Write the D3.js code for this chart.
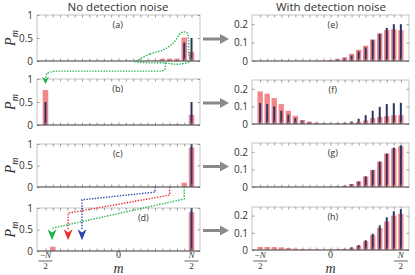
<!DOCTYPE html>
<html>
<head>
<meta charset="utf-8">
<script src="https://cdnjs.cloudflare.com/ajax/libs/d3/7.8.5/d3.min.js"></script>
<style>
body{margin:0;background:#fff}
svg{display:block}
text{font-family:'Open Sans',sans-serif;fill:#333}
.serif{font-family:'Liberation Serif',serif}
</style>
</head>
<body>
<script>
// m = -N/2 ... N/2  (N = 20)
var mVals = d3.range(-10, 11);

// no detection noise (left)
var aRed  = [0,0,0,0,0,0,0,0,0,0,0,0,0,0,0.01,0.015,0.05,0.05,0.05,0.51,0.2];
var aNavy = [0,0,0,0,0,0,0,0,0,0,0,0,0,0,0,0,0.02,0.02,0.02,0.4,0.5];
var bRed  = [0.76,0,0,0,0,0,0,0,0,0,0,0,0,0,0,0,0,0,0.01,0,0.22];
var bNavy = [0.5,0,0,0,0,0,0,0,0,0,0,0,0,0,0,0,0,0,0,0,0.5];
var cRed  = [0,0,0,0,0,0,0,0,0,0,0,0,0,0,0,0,0,0,0,0.1,0.92];
var cNavy = [0,0,0,0,0,0,0,0,0,0,0,0,0,0,0,0,0,0,0,0,1];
var dRed  = [0,0.1,0,0,0,0,0,0,0,0,0,0,0,0,0,0,0,0,0,0,0.9];
var dNavy = [0,0,0,0,0,0,0,0,0,0,0,0,0,0,0,0,0,0,0,0,1];

// with detection noise (right)
var eRed  = [0,0,0,0,0,0,0,0,0.001,0.003,0.005,0.011,0.02,0.039,0.061,0.083,0.117,0.15,0.168,0.172,0.167];
var eNavy = [0,0,0,0,0,0,0,0,0,0.001,0.003,0.008,0.015,0.03,0.052,0.074,0.115,0.148,0.18,0.2,0.2];
var fRed  = [0.185,0.172,0.147,0.113,0.075,0.047,0.023,0.013,0.007,0.004,0.002,0.003,0.005,0.008,0.012,0.02,0.033,0.04,0.045,0.05,0.05];
var fNavy = [0.119,0.113,0.1,0.075,0.053,0.034,0.019,0.011,0.006,0.003,0.002,0.004,0.008,0.015,0.03,0.05,0.075,0.097,0.113,0.118,0.12];
var gRed  = [0,0,0,0,0,0,0,0,0,0,0.001,0.003,0.007,0.017,0.032,0.06,0.097,0.144,0.19,0.219,0.232];
var gNavy = [0,0,0,0,0,0,0,0,0,0,0.001,0.003,0.007,0.016,0.031,0.06,0.097,0.144,0.19,0.224,0.237];
var hRed  = [0.018,0.018,0.017,0.015,0.012,0.008,0.006,0.004,0.003,0.002,0.004,0.004,0.006,0.013,0.025,0.051,0.086,0.128,0.166,0.2,0.21];
var hNavy = [0,0,0,0,0,0,0,0,0,0,0.001,0.003,0.007,0.016,0.029,0.057,0.095,0.143,0.19,0.225,0.238];

var leftTicks = [0, 0.5, 1];
var rightTicks = [0, 0.1, 0.2];
var titles = ['No detection noise', 'With detection noise'];
var letters = ['(a)','(b)','(c)','(d)','(e)','(f)','(g)','(h)'];

// annotation paths, in (m, P) units of the panel they belong to
var lassoA = [[2.4,0],[4.3,0.15],[6.1,0.24],[7.5,0.39],[8.3,0.57],[8.8,0.63],[9.4,0.61],[9.6,0.46],[9.6,0.2],[9.8,0.02],[9.4,-0.04],[7.9,-0.07],[6.1,-0.04],[4.3,-0.04],[2.5,-0.02]];
var tailA  = [[6.4,-0.04],[6.4,-0.17],[6.0,-0.22],[-8.7,-0.22],[-9.8,-0.26],[-10,-0.38]];
var tipA = [-10, -0.5];
var blueD  = [[5,1.49],[5,1.37],[-5,1.19],[-5,0.5]];
var redD   = [[7,1.49],[7,1.3],[-6.9,0.88],[-6.9,0.5]];
var greenD = [[9,1.49],[9,1.21],[-9.1,0.53],[-9.1,0.5]];
var tipsD = [[-9.1,0.25],[-6.9,0.25],[-5,0.25]];

var W = 415, H = 275;
var svg = d3.select('body').append('svg').attr('width', W).attr('height', H);

var colRed = '#f3868a', colNavy = '#2a3463';
var green = '#1fb24a', red = '#ee2a2a', blue = '#2f44a8';

var panels = [
    {x0:37, x1:200, y0:15, y1:61, max:1, red:aRed, navy:aNavy, t:leftTicks},
    {x0:37, x1:200, y0:79, y1:125, max:1, red:bRed, navy:bNavy, t:leftTicks},
    {x0:37, x1:200, y0:144, y1:187, max:1, red:cRed, navy:cNavy, t:leftTicks},
    {x0:37, x1:200, y0:208, y1:251, max:1, red:dRed, navy:dNavy, t:leftTicks},
    {x0:252, x1:409, y0:15, y1:61, max:0.25, red:eRed, navy:eNavy, t:rightTicks},
    {x0:252, x1:409, y0:80, y1:124, max:0.25, red:fRed, navy:fNavy, t:rightTicks},
    {x0:252, x1:409, y0:143, y1:187, max:0.25, red:gRed, navy:gNavy, t:rightTicks},
    {x0:252, x1:409, y0:207, y1:250, max:0.25, red:hRed, navy:hNavy, t:rightTicks}
];

var scales = [];

panels.forEach(function(p, k){
    var x = d3.scaleLinear().domain([-11.16, 11.16]).range([p.x0, p.x1]);
    var y = d3.scaleLinear().domain([0, p.max]).range([p.y1, p.y0]);
    scales.push({x:x, y:y});
    var step = x(1) - x(0);
    var g = svg.append('g');

    g.append('rect')
        .attr('x', p.x0).attr('y', p.y0)
        .attr('width', p.x1 - p.x0).attr('height', p.y1 - p.y0)
        .attr('fill', 'none').attr('stroke', '#c4c4c4');

    // wide red bars
    g.selectAll('rect.r')
        .data(p.red)
        .enter()
        .append('rect')
        .attr('class', 'r')
        .attr('x', function(d, i){ return x(mVals[i]) - step * 0.38; })
        .attr('width', step * 0.76)
        .attr('y', function(d){ return y(d); })
        .attr('height', function(d){ return y(0) - y(d); })
        .attr('fill', colRed);

    // thin navy bars
    g.selectAll('rect.n')
        .data(p.navy)
        .enter()
        .append('rect')
        .attr('class', 'n')
        .attr('x', function(d, i){ return x(mVals[i]) - 1; })
        .attr('width', 2)
        .attr('y', function(d){ return y(d); })
        .attr('height', function(d){ return y(0) - y(d); })
        .attr('fill', colNavy);

    function clean(s){
        s.select('.domain').remove();
        s.selectAll('line').attr('stroke', '#999');
    }
    g.append('g').attr('transform', 'translate(0,' + p.y1 + ')')
        .call(d3.axisBottom(x).tickValues(mVals).tickSize(-2.5).tickFormat(''))
        .call(clean);
    g.append('g').attr('transform', 'translate(0,' + p.y0 + ')')
        .call(d3.axisTop(x).tickValues(mVals).tickSize(-2.5).tickFormat(''))
        .call(clean);
    g.append('g').attr('transform', 'translate(' + p.x0 + ',0)')
        .call(d3.axisLeft(y).tickValues(p.t).tickSize(-2.5).tickPadding(4).tickFormat(function(d){ return d; }))
        .call(clean)
        .selectAll('text').attr('font-size', 10).attr('font-family', "'Open Sans',sans-serif").attr('fill', '#333');
    g.append('g').attr('transform', 'translate(' + p.x1 + ',0)')
        .call(d3.axisRight(y).tickValues(p.t).tickSize(-2.5).tickFormat(''))
        .call(clean);

    // darker baseline
    g.append('line')
        .attr('x1', p.x0).attr('x2', p.x1)
        .attr('y1', p.y1).attr('y2', p.y1)
        .attr('stroke', '#555');

    g.append('text')
        .attr('x', k == 3 ? x(3.4) : x(-0.1) + (k > 3 ? 3 : 0))
        .attr('y', p.y0 + 13)
        .attr('text-anchor', 'middle')
        .attr('font-size', 9)
        .text(letters[k]);

    // grey arrow from left to right column
    if (k < 4){
        var cy = (p.y0 + p.y1) / 2 + 1;
        svg.append('line')
            .attr('x1', 203).attr('x2', 221).attr('y1', cy).attr('y2', cy)
            .attr('stroke', '#8a8a8a').attr('stroke-width', 3);
        svg.append('path')
            .attr('d', 'M220,' + (cy - 5) + 'L229,' + cy + 'L220,' + (cy + 5) + 'Z')
            .attr('fill', '#8a8a8a');
        // P_m label
        svg.append('text')
            .attr('class', 'serif')
            .attr('transform', 'translate(15,' + ((p.y0 + p.y1) / 2) + ') rotate(-90)')
            .attr('text-anchor', 'middle')
            .attr('font-size', 14)
            .attr('font-style', 'italic')
            .attr('fill', '#222')
            .html('P<tspan font-size="10" dy="3">m</tspan>');
    }
});

// titles
svg.append('text').attr('x', 118).attr('y', 11).attr('text-anchor', 'middle')
    .attr('font-size', 11.5).attr('fill', '#111').text(titles[0]);
svg.append('text').attr('x', 331).attr('y', 11).attr('text-anchor', 'middle')
    .attr('font-size', 11.5).attr('fill', '#111').text(titles[1]);

// x tick labels on bottom panels
[3, 7].forEach(function(k){
    var x = scales[k].x;
    var base = 258;
    [-10, 10].forEach(function(v){
        var gx = svg.append('g').attr('transform', 'translate(' + x(v) + ',' + base + ')');
        gx.append('text').attr('class', 'serif').attr('text-anchor', 'middle').attr('y', 0)
            .attr('font-size', 9).attr('fill', '#222')
            .html(v < 0 ? '\u2212<tspan font-style="italic">N</tspan>' : '<tspan font-style="italic">N</tspan>');
        gx.append('line').attr('x1', -7).attr('x2', 7).attr('y1', 3).attr('y2', 3)
            .attr('stroke', '#222').attr('stroke-width', 0.7);
        gx.append('text').attr('class', 'serif').attr('text-anchor', 'middle').attr('y', 11)
            .attr('font-size', 9).attr('fill', '#222').text('2');
    });
    svg.append('text').attr('class', 'serif').attr('x', x(0)).attr('y', base)
        .attr('text-anchor', 'middle').attr('font-size', 10).attr('fill', '#222').text('0');
    svg.append('text').attr('class', 'serif').attr('x', x(0)).attr('y', 273)
        .attr('text-anchor', 'middle').attr('font-size', 14).attr('font-style', 'italic')
        .attr('fill', '#222').text('m');
});

// dotted annotations
function dotted(pts, s, color, curve){
    return svg.append('path')
        .attr('d', d3.line().x(function(d){ return s.x(d[0]); }).y(function(d){ return s.y(d[1]); }).curve(curve)(pts))
        .attr('fill', 'none').attr('stroke', color).attr('stroke-width', 1.4)
        .attr('stroke-dasharray', '1.4,1.4');
}
function tip(pt, s, color, w, h){
    var tx = s.x(pt[0]), ty = s.y(pt[1]);
    svg.append('path')
        .attr('d', 'M' + tx + ',' + ty + 'L' + (tx - w / 2) + ',' + (ty - h) + 'L' + tx + ',' + (ty - h * 0.7) + 'L' + (tx + w / 2) + ',' + (ty - h) + 'Z')
        .attr('fill', color);
}
var sA = scales[0], sD = scales[3];
dotted(lassoA, sA, green, d3.curveCardinalClosed);
dotted(tailA, sA, green, d3.curveLinear);
tip(tipA, sA, green, 7, 7);

dotted(blueD, sD, blue, d3.curveLinear);
dotted(redD, sD, red, d3.curveLinear);
dotted(greenD, sD, green, d3.curveLinear);
tip(tipsD[0], sD, green, 9, 11);
tip(tipsD[1], sD, red, 9, 11);
tip(tipsD[2], sD, blue, 9, 11);
</script>
</body>
</html>
